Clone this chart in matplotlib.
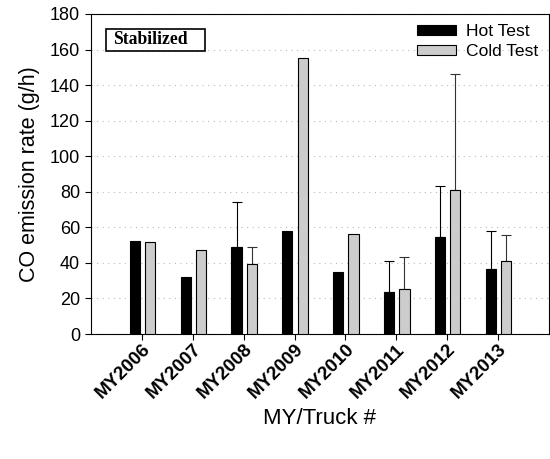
import matplotlib.pyplot as plt
import numpy as np
from matplotlib.patches import Rectangle

# CO emission rates, stabilized phase
trucks = ["MY2006", "MY2007", "MY2008", "MY2009", "MY2010", "MY2011", "MY2012", "MY2013"]
hot = [52.2, 31.8, 49.0, 57.9, 35.1, 23.7, 54.3, 36.8]
cold = [52.0, 47.5, 39.6, 155.3, 56.5, 25.6, 81.0, 41.3]
# upper error only (0 = no error bar)
hot_err = [0, 0, 25.0, 0, 0, 17.6, 29.1, 20.9]
cold_err = [0, 0, 9.1, 0, 0, 17.8, 65.3, 14.5]

plt.rcParams['font.family'] = ['Liberation Sans', 'DejaVu Sans']

fig = plt.figure(figsize=(5.5, 4.59), dpi=100)
ax = fig.add_axes([0.1655, 0.2723, 0.8325, 0.6972])

x = np.arange(1, len(trucks) + 1)
w = 0.2
xh = x - 0.14
xc = x + 0.16

ax.bar(xh, hot, w, color='black', edgecolor='black', linewidth=0.8,
       label='Hot Test', zorder=3)
ax.bar(xc, cold, w, color='#cccccc', edgecolor='black', linewidth=0.8,
       label='Cold Test', zorder=3)

he = np.array(hot_err)
ce = np.array(cold_err)
mh = he > 0
mc = ce > 0
ax.errorbar(xh[mh], np.array(hot)[mh], yerr=[np.zeros(mh.sum()), he[mh]],
            fmt='none', ecolor='black', elinewidth=0.8, capsize=3.5, capthick=0.8, zorder=2)
ax.errorbar(xc[mc], np.array(cold)[mc], yerr=[np.zeros(mc.sum()), ce[mc]],
            fmt='none', ecolor='#333333', elinewidth=0.8, capsize=3.5, capthick=0.8, zorder=2)

ax.set_xlim(0, 9)
ax.set_ylim(0, 180)
ax.set_yticks(np.arange(0, 181, 20))
ax.set_xticks(x)
ax.set_xticklabels(trucks, rotation=45, ha='right', rotation_mode='anchor',
                   fontweight='bold', fontsize=13.5)
ax.tick_params(axis='y', labelsize=13, direction='out', length=4, pad=4)
ax.tick_params(axis='x', direction='out', length=4, pad=1)
ax.yaxis.grid(True, linestyle=(0, (1, 4)), color='#bbbbbb', linewidth=0.8, zorder=0)
ax.set_axisbelow(True)

ax.set_ylabel('CO emission rate (g/h)', fontsize=15.5, labelpad=7)
ax.set_xlabel('MY/Truck #', fontsize=16, labelpad=4)

ax.legend(loc='upper right', frameon=False, fontsize=12.6, handlelength=2.2,
          handleheight=0.5, borderaxespad=0.2, labelspacing=0.25, handletextpad=0.6)

ax.add_patch(Rectangle((0.033, 0.884), 0.216, 0.069, transform=ax.transAxes,
                       fill=False, edgecolor='black', linewidth=1.2, zorder=5))
ax.text(0.048, 0.919, 'Stabilized', transform=ax.transAxes, va='center', ha='left',
        fontsize=12.7, fontweight='bold', family=['Liberation Serif', 'DejaVu Serif'], zorder=6)

fig.savefig('out.png', dpi=100)
